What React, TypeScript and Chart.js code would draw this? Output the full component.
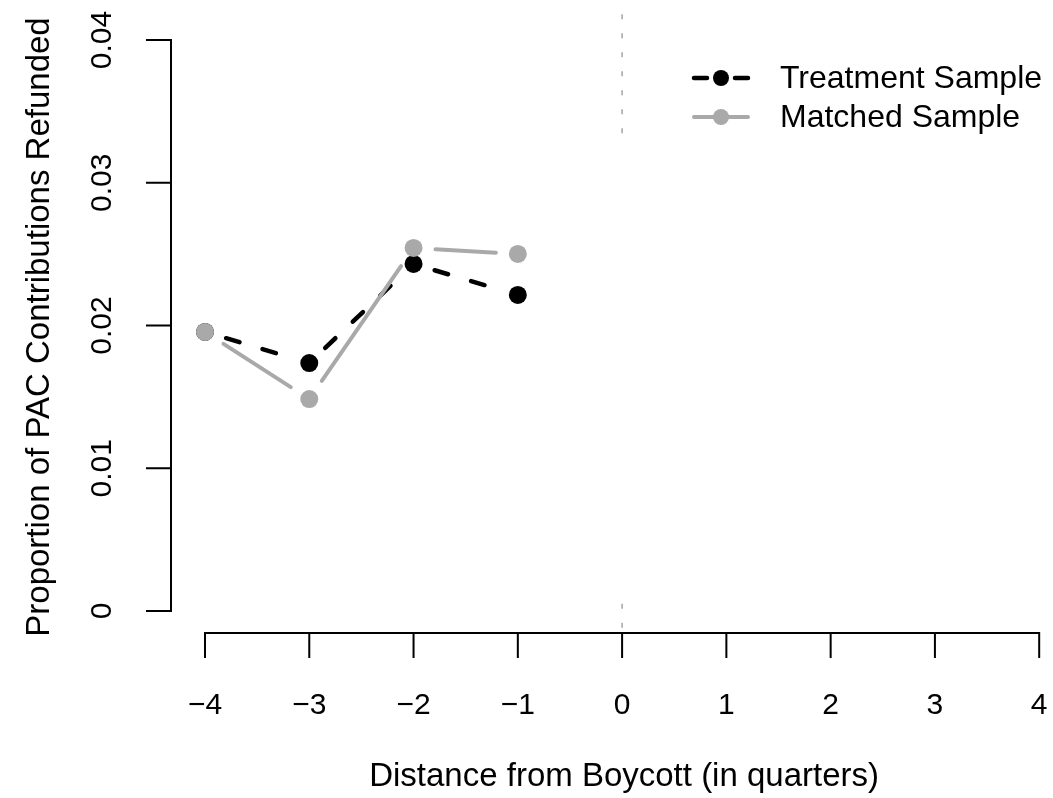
import React, { useEffect, useRef } from "react";
import { Chart, registerables } from "chart.js";

Chart.register(...registerables);

// ---- data ----
const quarters = [-4, -3, -2, -1];
const treatmentValues = [0.01955, 0.01737, 0.02431, 0.02214];
const matchedValues = [0.01955, 0.01485, 0.02543, 0.02501];
const seriesNames = ["Treatment Sample", "Matched Sample"];
const xTicks = [-4, -3, -2, -1, 0, 1, 2, 3, 4];
const xTickLabels = ["\u22124", "\u22123", "\u22122", "\u22121", "0", "1", "2", "3", "4"];
const yTicks = [0, 0.01, 0.02, 0.03, 0.04];
const yTickLabels = ["0", "0.01", "0.02", "0.03", "0.04"];
const xTitle = "Distance from Boycott (in quarters)";
const yTitle = "Proportion of PAC Contributions Refunded";
const boycottX = 0;
const boycottSpans = [
  [0.0331, 0.0418],
  [-0.00155, 0.0005],
];

const FONT = '"Liberation Sans", Arial, Helvetica, sans-serif';
const BLACK = "#000000";
const GRAY = "#a9a9a9";

const gapLinePlugin = {
  id: "gapLine",
  beforeDatasetDraw(chart: any, args: any) {
    const ds: any = chart.data.datasets[args.index];
    const pts = args.meta.data;
    const ctx = chart.ctx;
    const gap = 22;
    ctx.save();
    ctx.strokeStyle = ds.borderColor;
    ctx.lineWidth = ds.borderWidth;
    ctx.lineCap = "round";
    for (let i = 0; i < pts.length - 1; i++) {
      const a = pts[i];
      const b = pts[i + 1];
      const dx = b.x - a.x;
      const dy = b.y - a.y;
      const len = Math.hypot(dx, dy);
      if (len <= gap * 2) continue;
      const ux = dx / len;
      const uy = dy / len;
      ctx.setLineDash(ds.gapDash || []);
      ctx.lineDashOffset = 0;
      ctx.beginPath();
      ctx.moveTo(a.x + ux * gap, a.y + uy * gap);
      ctx.lineTo(b.x - ux * gap, b.y - uy * gap);
      ctx.stroke();
    }
    ctx.restore();
  },
};

const axesPlugin = {
  id: "rAxes",
  beforeDatasetsDraw(chart: any) {
    const ctx = chart.ctx;
    const xs = chart.scales.x;
    const ys = chart.scales.y;
    const area = chart.chartArea;
    ctx.save();
    // boycott dashed line
    ctx.strokeStyle = GRAY;
    ctx.lineWidth = 1.6;
    ctx.setLineDash([5, 14]);
    const vx = xs.getPixelForValue(boycottX);
    for (const [lo, hi] of boycottSpans) {
      ctx.beginPath();
      ctx.moveTo(vx, ys.getPixelForValue(hi));
      ctx.lineTo(vx, ys.getPixelForValue(lo));
      ctx.stroke();
    }
    ctx.setLineDash([]);

    ctx.strokeStyle = BLACK;
    ctx.lineWidth = 2;
    ctx.lineCap = "square";
    const tl = 24;
    // y axis
    const ax = area.left;
    ctx.beginPath();
    ctx.moveTo(ax, ys.getPixelForValue(yTicks[0]));
    ctx.lineTo(ax, ys.getPixelForValue(yTicks[yTicks.length - 1]));
    for (const t of yTicks) {
      const py = ys.getPixelForValue(t);
      ctx.moveTo(ax - tl, py);
      ctx.lineTo(ax, py);
    }
    ctx.stroke();
    // x axis
    const ay = area.bottom;
    ctx.beginPath();
    ctx.moveTo(xs.getPixelForValue(xTicks[0]), ay);
    ctx.lineTo(xs.getPixelForValue(xTicks[xTicks.length - 1]), ay);
    for (const t of xTicks) {
      const px = xs.getPixelForValue(t);
      ctx.moveTo(px, ay);
      ctx.lineTo(px, ay + tl);
    }
    ctx.stroke();

    // tick labels
    ctx.fillStyle = BLACK;
    ctx.font = `30px ${FONT}`;
    ctx.textAlign = "center";
    ctx.textBaseline = "middle";
    xTicks.forEach((t, i) => {
      ctx.fillText(xTickLabels[i], xs.getPixelForValue(t), 706);
    });
    yTicks.forEach((t, i) => {
      ctx.save();
      ctx.translate(103, ys.getPixelForValue(t));
      ctx.rotate(-Math.PI / 2);
      ctx.fillText(yTickLabels[i], 0, 0);
      ctx.restore();
    });

    // titles
    ctx.font = `33px ${FONT}`;
    ctx.fillText(xTitle, xs.getPixelForValue(0) + 2, 777);
    ctx.save();
    ctx.translate(40, (area.top + area.bottom) / 2 + 3);
    ctx.rotate(-Math.PI / 2);
    ctx.fillText(yTitle, 0, 0);
    ctx.restore();

    ctx.restore();
  },
  afterDraw(chart: any) {
    // legend
    const ctx = chart.ctx;
    const datasets = chart.data.datasets;
    const rows = [78, 117];
    const x0 = 692;
    const x1 = 750;
    const xm = 721;
    ctx.save();
    datasets.forEach((ds: any, i: number) => {
      const y = rows[i];
      ctx.strokeStyle = ds.borderColor;
      ctx.lineWidth = ds.borderWidth;
      ctx.lineCap = "round";
      ctx.setLineDash([]);
      ctx.beginPath();
      if (ds.gapDash && ds.gapDash.length) {
        ctx.moveTo(x0 + 2, y);
        ctx.lineTo(x0 + 15, y);
        ctx.moveTo(x1 - 15, y);
        ctx.lineTo(x1 - 2, y);
      } else {
        ctx.moveTo(x0 + 2, y);
        ctx.lineTo(x1 - 2, y);
      }
      ctx.stroke();
      ctx.fillStyle = ds.pointBackgroundColor;
      ctx.beginPath();
      ctx.arc(xm, y, 8, 0, Math.PI * 2);
      ctx.fill();
      ctx.fillStyle = BLACK;
      ctx.font = `32px ${FONT}`;
      ctx.textAlign = "left";
      ctx.textBaseline = "middle";
      ctx.fillText(ds.label, 780, y + 1);
    });
    ctx.restore();
  },
};

export default function App() {
  const canvasRef = useRef<HTMLCanvasElement | null>(null);

  useEffect(() => {
    document.body.style.margin = "0";
    const canvas = canvasRef.current;
    if (!canvas) return;
    const toPoints = (vals: number[]) => quarters.map((q, i) => ({ x: q, y: vals[i] }));
    const chart = new Chart(canvas, {
      type: "line",
      data: {
        datasets: [
          {
            label: seriesNames[0],
            data: toPoints(treatmentValues),
            borderColor: BLACK,
            borderWidth: 4.5,
            pointBackgroundColor: BLACK,
            pointBorderWidth: 0,
            pointRadius: 9,
            showLine: false,
            order: 1,
            gapDash: [14, 24],
          } as any,
          {
            label: seriesNames[1],
            data: toPoints(matchedValues),
            borderColor: GRAY,
            borderWidth: 4,
            pointBackgroundColor: GRAY,
            pointBorderWidth: 0,
            pointRadius: 9,
            showLine: false,
            order: 0,
            gapDash: [],
          } as any,
        ],
      },
      options: {
        responsive: false,
        animation: false,
        events: [],
        layout: { padding: { left: 171, top: 15, right: 1, bottom: 165 } },
        plugins: {
          legend: { display: false },
          tooltip: { enabled: false },
          title: { display: false },
        },
        scales: {
          x: {
            type: "linear",
            display: false,
            min: -4.3261,
            max: 4.0461,
          },
          y: {
            type: "linear",
            display: false,
            min: -0.001541,
            max: 0.041751,
          },
        },
      },
      plugins: [gapLinePlugin, axesPlugin],
    });
    return () => chart.destroy();
  }, []);

  return (
    <div style={{ width: 1053, height: 798, background: "#ffffff" }}>
      <canvas ref={canvasRef} width={1053} height={798} style={{ display: "block" }} />
    </div>
  );
}
